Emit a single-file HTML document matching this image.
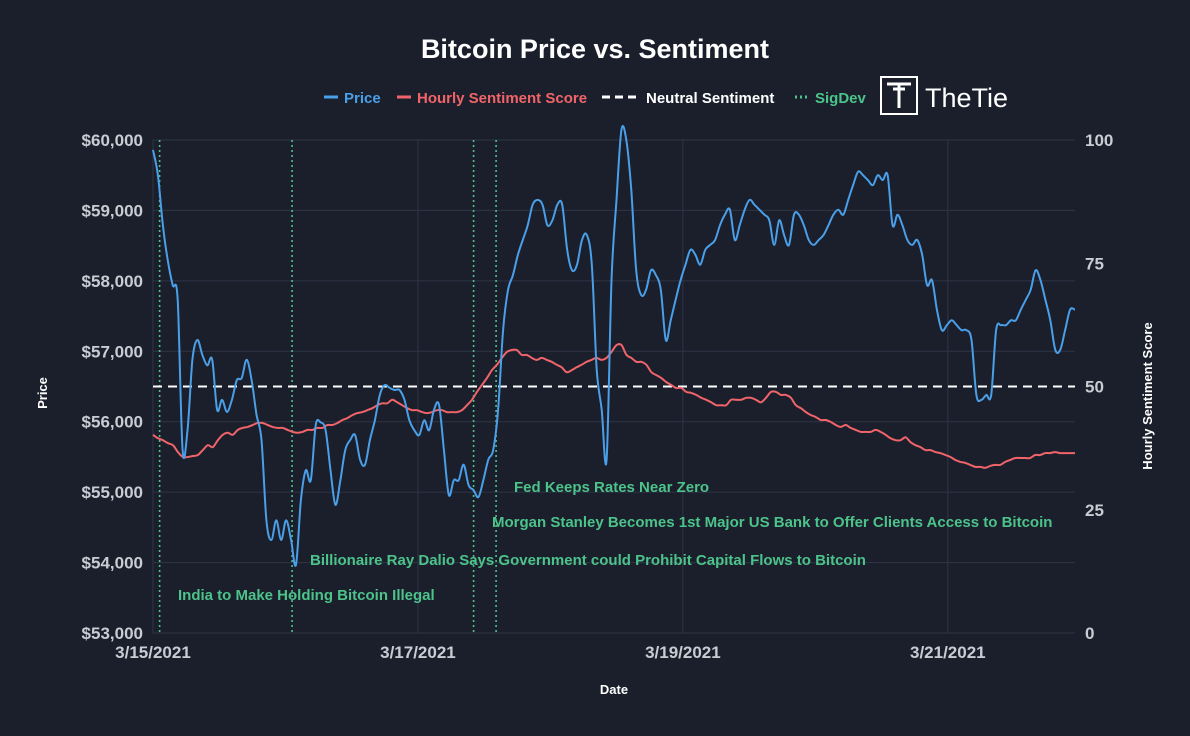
<!DOCTYPE html>
<html><head><meta charset="utf-8">
<style>
html,body{margin:0;padding:0;background:#1a1f2b;}
body{width:1190px;height:731px;overflow:hidden;font-family:"Liberation Sans",Arial,sans-serif;}
svg text{font-family:"Liberation Sans",Arial,sans-serif;}
</style></head>
<body>
<svg id="chart" width="1190" height="731">
<rect width="1190" height="731" fill="#1a1f2b"/>
<text x="595" y="58" text-anchor="middle" fill="#ffffff" font-size="27" font-weight="bold">Bitcoin Price vs. Sentiment</text>
<g id="legend">
 <g><line x1="324" y1="97" x2="338" y2="97" stroke="#4a9fe8" stroke-width="3"/><text x="344" y="103" fill="#4a9fe8" font-size="15" font-weight="bold">Price</text></g>
 <g><line x1="397" y1="97" x2="411" y2="97" stroke="#f0646a" stroke-width="3"/><text x="417" y="103" fill="#f0646a" font-size="15" font-weight="bold">Hourly Sentiment Score</text></g>
 <g><line x1="602" y1="97" x2="638" y2="97" stroke="#ffffff" stroke-width="3" stroke-dasharray="8,5"/><text x="646" y="103" fill="#ffffff" font-size="15" font-weight="bold">Neutral Sentiment</text></g>
 <g><line x1="795" y1="97" x2="809" y2="97" stroke="#4cc38a" stroke-width="3" stroke-dasharray="2,3"/><text x="815" y="103" fill="#4cc38a" font-size="15" font-weight="bold">SigDev</text></g>
 <g><rect x="881" y="77" width="36" height="37" fill="none" stroke="#ffffff" stroke-width="2"/><path d="M887 84 H911 M899 84 V108 M893 89 H905" stroke="#fff" stroke-width="3" fill="none"/><text x="925" y="107" fill="#ffffff" font-size="27">TheTie</text></g>
</g>
<g id="grid"></g>
<g id="axes"></g>
<g id="sig"></g>
<g id="series"></g>
<text x="47" y="393" transform="rotate(-90 47 393)" text-anchor="middle" fill="#ffffff" font-size="13" font-weight="bold">Price</text>
<text x="1152" y="396" transform="rotate(-90 1152 396)" text-anchor="middle" fill="#ffffff" font-size="13" font-weight="bold">Hourly Sentiment Score</text>
<text x="614" y="694" text-anchor="middle" fill="#ffffff" font-size="13" font-weight="bold">Date</text>
</svg>
<script>
const priceTicks=[53000,54000,55000,56000,57000,58000,59000,60000];
const sentTicks=[0,25,50,75,100];
const dateLabels=["3/15/2021","3/17/2021","3/19/2021","3/21/2021"];
const dateLabelDays=[0,2,4,6];
const totalDays=6.96;
const neutral=50;
const sigDevDays=[0.05,1.05,2.42,2.59];
const sigDevLabels=["India to Make Holding Bitcoin Illegal","Billionaire Ray Dalio Says Government could Prohibit Capital Flows to Bitcoin","Morgan Stanley Becomes 1st Major US Bank to Offer Clients Access to Bitcoin","Fed Keeps Rates Near Zero"];
const price=[59860,59500,58790,58290,57940,57730,55600,55880,56880,57160,56950,56800,56880,
56170,56310,56140,56310,56590,56620,56880,56590,56100,55740,54600,54320,54600,54320,54600,54320,53970,54890,55310,55170,55950,55990,55880,55310,54820,55170,55600,55740,55810,55460,55390,55740,56020,56380,56520,56480,56450,56450,56310,56020,55880,55810,56020,55880,56170,56240,55600,54960,55170,55170,55390,55100,55030,54930,55170,55460,55600,56170,57300,57870,58080,58370,58580,58790,59080,59150,59080,58790,58860,59080,59080,58440,58150,58230,58580,58650,58230,56740,56170,55460,58010,59150,60140,60000,59290,58150,57800,57870,58150,58080,57870,57160,57440,57730,58010,58230,58440,58370,58230,58440,58510,58580,58790,58940,59010,58580,58790,59010,59150,59080,59010,58940,58860,58510,58860,58650,58510,58940,58940,58790,58580,58510,58580,58650,58790,58940,59010,58940,59150,59360,59550,59500,59430,59360,59500,59430,59500,58790,58940,58790,58580,58510,58580,58370,57940,58010,57590,57300,57370,57440,57370,57300,57300,57160,56380,56310,56380,56380,57300,57370,57370,57440,57440,57590,57730,57870,58150,58010,57730,57440,57020,57020,57300,57590,57590];
const sentiment=[40.2,39.5,39.1,38.5,38.1,36.7,35.7,35.7,35.9,36.1,37.1,38.1,37.7,39.1,40.2,40.6,40.2,41.2,41.6,41.8,42.2,42.6,42.6,42.2,41.8,41.6,41.6,41.2,40.8,40.6,40.8,41.2,41.2,41.6,41.6,42.2,42.2,42.6,43.2,43.6,44.2,44.6,44.8,45.2,45.6,46.2,46.6,46.6,47.3,46.8,46.2,45.6,45.2,45.2,44.8,44.6,44.8,45.2,45.2,44.8,44.8,44.8,45.2,46.2,47.3,48.9,50.3,51.7,53.3,54.4,55.8,57.0,57.4,57.4,56.4,56.4,55.8,55.4,55.8,55.4,55.0,54.4,53.9,52.9,53.3,53.9,54.4,55.0,55.4,55.8,55.4,55.8,57.0,58.4,58.4,56.4,55.8,55.0,55.0,54.4,52.9,52.3,51.7,50.9,50.3,49.7,49.7,48.9,48.7,48.3,47.7,47.3,46.8,46.2,46.2,46.2,47.3,47.3,47.3,47.7,47.7,47.3,46.8,47.7,48.9,48.9,48.3,48.3,47.7,46.2,45.6,44.8,44.2,43.8,43.2,43.2,42.8,42.2,41.8,42.2,41.6,41.2,40.8,40.8,40.8,41.2,40.8,40.2,39.5,39.1,39.1,39.7,38.7,38.1,37.7,37.1,37.1,36.7,36.5,36.1,35.7,35.1,34.7,34.5,34.1,33.7,33.7,33.5,33.9,34.1,34.1,34.7,35.1,35.5,35.5,35.5,35.5,36.1,36.1,36.5,36.5,36.7,36.5,36.5,36.5,36.5];

const NS='http://www.w3.org/2000/svg';
const L=153,R=1075,T=140,B=633;
const xDay=d=>L+d/totalDays*(R-L);
const yPrice=v=>B-(v-53000)/7000*(B-T);
const ySent=v=>B-v/100*(B-T);
function mk(tag,attrs,parent){const e=document.createElementNS(NS,tag);for(const k in attrs)e.setAttribute(k,attrs[k]);parent.appendChild(e);return e;}
const grid=document.getElementById('grid'),axes=document.getElementById('axes'),sig=document.getElementById('sig'),ser=document.getElementById('series');
priceTicks.forEach(v=>{
 const y=yPrice(v);
 const g=mk('line',{x1:L,x2:R,y1:y,y2:y,stroke:'#2f3546','stroke-width':1},grid);
 
 
 const t=mk('text',{x:143,y:y+6,'text-anchor':'end',fill:'#c9ccd3','font-size':17,'font-weight':'bold'},axes);
 t.textContent='$'+v.toLocaleString('en-US');
 
 
});
sentTicks.forEach(v=>{
 const t=mk('text',{x:1085,y:ySent(v)+6,fill:'#c9ccd3','font-size':17,'font-weight':'bold'},axes);
 t.textContent=v;
 
 
});
dateLabels.forEach((s,i)=>{
 const x=xDay(dateLabelDays[i]);
 const g=mk('line',{x1:x,x2:x,y1:T,y2:B,stroke:'#2f3546','stroke-width':1},grid);
 
 
 const t=mk('text',{x:x,y:658,'text-anchor':'middle',fill:'#c9ccd3','font-size':17,'font-weight':'bold'},axes);
 t.textContent=s;
 
 
});
const labelPos=[[178,600],[310,565],[492,527],[514,492]];
sigDevDays.forEach((d,i)=>{
 const x=xDay(d);
 const l=mk('line',{x1:x,x2:x,y1:T,y2:B,stroke:'#4cc38a','stroke-width':1.6,'stroke-dasharray':'2,3'},sig);
 
 
 const t=mk('text',{x:labelPos[i][0],y:labelPos[i][1],fill:'#4cc38a','font-size':15,'font-weight':'bold'},sig);
 t.textContent=sigDevLabels[i];
 
 
});
const ny=ySent(neutral);
const nl=mk('line',{x1:L,x2:R,y1:ny,y2:ny,stroke:'#ffffff','stroke-width':2,'stroke-dasharray':'9,6'},ser);


function path(arr,yf){
 const p=arr.map((v,i)=>[xDay(i/(arr.length-1)*totalDays),yf(v)]);
 let d='M'+p[0][0].toFixed(1)+','+p[0][1].toFixed(1);
 for(let i=0;i<p.length-1;i++){
  const p0=p[i-1]||p[i],p1=p[i],p2=p[i+1],p3=p[i+2]||p2;
  const c1x=p1[0]+(p2[0]-p0[0])/6,c1y=p1[1]+(p2[1]-p0[1])/6;
  const c2x=p2[0]-(p3[0]-p1[0])/6,c2y=p2[1]-(p3[1]-p1[1])/6;
  d+='C'+c1x.toFixed(1)+','+c1y.toFixed(1)+' '+c2x.toFixed(1)+','+c2y.toFixed(1)+' '+p2[0].toFixed(1)+','+p2[1].toFixed(1);
 }
 return d;
}
const sp=mk('path',{d:path(sentiment,ySent),fill:'none',stroke:'#f0646a','stroke-width':2,'stroke-linejoin':'round'},ser);


const pp=mk('path',{d:path(price,yPrice),fill:'none',stroke:'#4a9fe8','stroke-width':2,'stroke-linejoin':'round'},ser);


</script>
</body></html>
